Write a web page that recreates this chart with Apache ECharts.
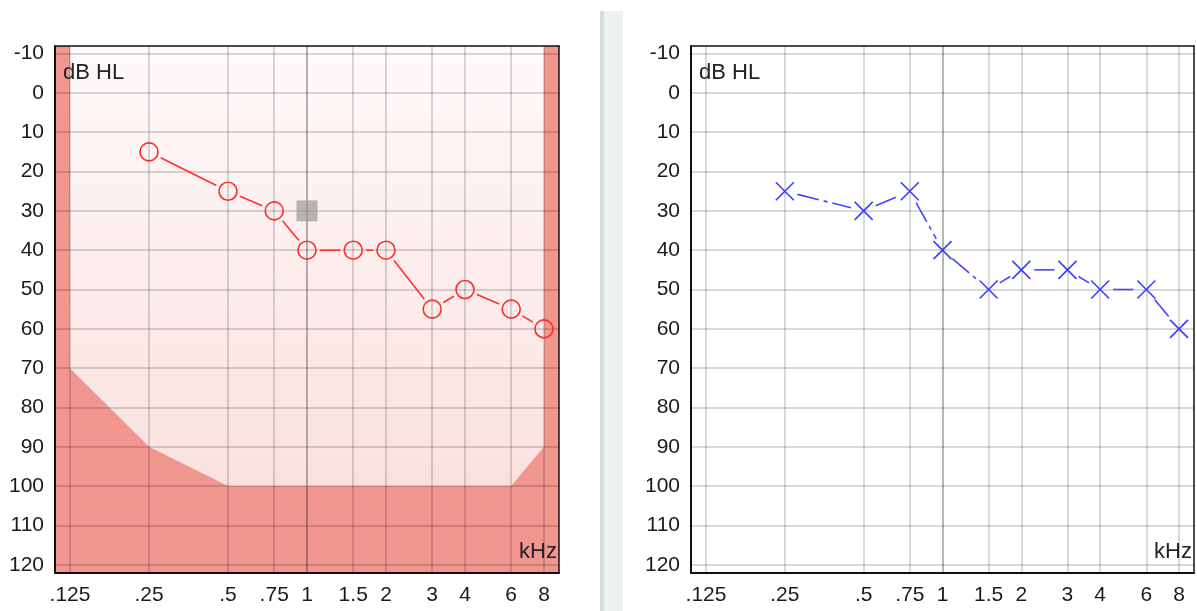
<!DOCTYPE html>
<html>
<head>
<meta charset="utf-8">
<title>Audiogram</title>
<script src="https://cdn.jsdelivr.net/npm/echarts@6/dist/echarts.min.js"></script>
<style>
  html, body { margin: 0; padding: 0; background: #fff; }
  #chart { width: 1197px; height: 611px; }
</style>
</head>
<body>
<div id="chart"></div>
<script>
// axis ticks
const freqTicks = [0.125, 0.25, 0.5, 0.75, 1, 1.5, 2, 3, 4, 6, 8];
const freqTickLabels = ['.125', '.25', '.5', '.75', '1', '1.5', '2', '3', '4', '6', '8'];
const dbTicks = [-10, 0, 10, 20, 30, 40, 50, 60, 70, 80, 90, 100, 110, 120];

// left ear (circles)
const leftFreqs = [0.25, 0.5, 0.75, 1, 1.5, 2, 3, 4, 6, 8];
const leftDb = [15, 25, 30, 40, 40, 40, 55, 50, 55, 60];
// masking marker on the left chart
const maskFreqs = [1];
const maskDb = [30];
// output limit of the audiometer (red area below it)
const limitFreqs = [0.125, 0.25, 0.5, 6, 8];
const limitDb = [70, 90, 100, 100, 90];

// right ear (crosses)
const rightFreqs = [0.25, 0.5, 0.75, 1, 1.5, 2, 3, 4, 6, 8];
const rightDb = [25, 30, 25, 40, 50, 45, 45, 50, 50, 60];

const lx = (f) => Math.log2(f);
const X_MIN = -3.19, X_MAX = 3.19;
const Y_MIN = -11.93, Y_MAX = 122.1;
const FONT = "'Liberation Sans', Arial, sans-serif";

const chart = echarts.init(document.getElementById('chart'));

function segments(freqs, db) {
  const out = [];
  for (let i = 1; i < freqs.length; i++) {
    out.push([lx(freqs[i - 1]), db[i - 1], lx(freqs[i]), db[i]]);
  }
  return out;
}

// draw each connecting line stopping short of the markers
function segmentSeries(freqs, db, axisIdx, color, gap, dash) {
  return {
    type: 'custom',
    xAxisIndex: axisIdx,
    yAxisIndex: axisIdx,
    z: 5,
    silent: true,
    encode: { x: [0, 2], y: [1, 3] },
    data: segments(freqs, db),
    renderItem(params, api) {
      const a = api.coord([api.value(0), api.value(1)]);
      const b = api.coord([api.value(2), api.value(3)]);
      const dx = b[0] - a[0], dy = b[1] - a[1];
      const len = Math.sqrt(dx * dx + dy * dy);
      if (len <= gap * 2) return null;
      const ux = dx / len, uy = dy / len;
      return {
        type: 'line',
        shape: {
          x1: a[0] + ux * gap, y1: a[1] + uy * gap,
          x2: b[0] - ux * gap, y2: b[1] - uy * gap
        },
        style: { stroke: color, lineWidth: 1.6, lineDash: dash || null }
      };
    }
  };
}

const splitColors = freqTicks.map((f) => (f === 1 ? 'rgba(0,0,0,0.38)' : 'rgba(0,0,0,0.2)'));

function xAxes(gridIndex) {
  return [
    {
      type: 'value', gridIndex, min: X_MIN, max: X_MAX, z: 3,
      axisLine: { show: true, onZero: false, lineStyle: { color: '#111', width: 2 } },
      axisTick: { show: false, customValues: freqTicks.map(lx) },
      axisLabel: {
        customValues: freqTicks.map(lx),
        margin: 12,
        fontFamily: FONT, fontSize: 21, color: '#1a1a1a',
        formatter: (v) => {
          let best = 0;
          freqTicks.forEach((f, i) => {
            if (Math.abs(lx(f) - v) < Math.abs(lx(freqTicks[best]) - v)) best = i;
          });
          return freqTickLabels[best];
        }
      },
      splitLine: { show: true, lineStyle: { color: splitColors, width: 1.5 } }
    },
    {
      type: 'value', gridIndex, min: X_MIN, max: X_MAX, position: 'top', z: 3,
      axisLine: { show: true, onZero: false, lineStyle: { color: '#111', width: 1.5 } },
      axisTick: { show: false }, axisLabel: { show: false }, splitLine: { show: false }
    }
  ];
}

function yAxes(gridIndex) {
  return [
    {
      type: 'value', gridIndex, min: Y_MIN, max: Y_MAX, inverse: true, z: 3,
      axisLine: { show: true, onZero: false, lineStyle: { color: '#111', width: 2 } },
      axisTick: { show: false, customValues: dbTicks },
      axisLabel: {
        customValues: dbTicks, margin: 11,
        fontFamily: FONT, fontSize: 21, color: '#1a1a1a'
      },
      splitLine: { show: true, lineStyle: { color: 'rgba(0,0,0,0.2)', width: 1.5 } }
    },
    {
      type: 'value', gridIndex, min: Y_MIN, max: Y_MAX, inverse: true, position: 'right', z: 3,
      axisLine: { show: true, onZero: false, lineStyle: { color: '#111', width: 1.5 } },
      axisTick: { show: false }, axisLabel: { show: false }, splitLine: { show: false }
    }
  ];
}

// limit curve, carried out to the frame edges
const limitData = [[X_MIN, Y_MIN], [lx(limitFreqs[0]), Y_MIN]]
  .concat(limitFreqs.map((f, i) => [lx(f), limitDb[i]]))
  .concat([[lx(limitFreqs[limitFreqs.length - 1]), Y_MIN], [X_MAX, Y_MIN]]);

const labelFont = '22px ' + FONT;

const option = {
  animation: false,
  backgroundColor: '#fff',
  grid: [
    {
      left: 55, top: 46, width: 504, height: 527, show: true, borderWidth: 0,
      backgroundColor: new echarts.graphic.LinearGradient(0, 0, 0, 1, [
        { offset: 0, color: '#fefafa' },
        { offset: 1, color: '#f9dcda' }
      ])
    },
    { left: 691, top: 46, width: 503, height: 527 }
  ],
  xAxis: xAxes(0).concat(xAxes(1)),
  yAxis: yAxes(0).concat(yAxes(1)),
  graphic: [
    { type: 'rect', shape: { x: 600, y: 11, width: 23, height: 600 }, style: { fill: '#ecf2f2' } },
    { type: 'rect', shape: { x: 600, y: 11, width: 4, height: 600 }, style: { fill: '#d6dcdc' } },
    { type: 'text', x: 63, y: 73, z: 10, style: { text: 'dB HL', font: labelFont, fill: '#222', verticalAlign: 'middle' } },
    { type: 'text', x: 557, y: 552, z: 10, style: { text: 'kHz', font: labelFont, fill: '#222', align: 'right', verticalAlign: 'middle' } },
    { type: 'text', x: 699, y: 73, z: 10, style: { text: 'dB HL', font: labelFont, fill: '#222', verticalAlign: 'middle' } },
    { type: 'text', x: 1192, y: 552, z: 10, style: { text: 'kHz', font: labelFont, fill: '#222', align: 'right', verticalAlign: 'middle' } }
  ],
  series: [
    {
      type: 'line', xAxisIndex: 0, yAxisIndex: 0, z: 1, silent: true,
      data: limitData, symbol: 'none',
      lineStyle: { width: 0 },
      areaStyle: { origin: 'end', color: '#f1968f', opacity: 1 }
    },
    {
      type: 'scatter', xAxisIndex: 0, yAxisIndex: 0, z: 4,
      data: maskFreqs.map((f, i) => [lx(f), maskDb[i]]),
      symbol: 'rect', symbolSize: 21,
      itemStyle: { color: 'rgba(150,150,150,0.85)' }
    },
    segmentSeries(leftFreqs, leftDb, 0, '#ff3030', 13),
    {
      type: 'scatter', xAxisIndex: 0, yAxisIndex: 0, z: 6,
      data: leftFreqs.map((f, i) => [lx(f), leftDb[i]]),
      symbol: 'circle', symbolSize: 18,
      itemStyle: { color: 'rgba(0,0,0,0)', borderColor: '#ff2a2a', borderWidth: 1.6, opacity: 1 }
    },
    segmentSeries(rightFreqs, rightDb, 2, '#4545ff', 13, [22, 5, 4, 5]),
    {
      type: 'scatter', xAxisIndex: 2, yAxisIndex: 2, z: 6,
      data: rightFreqs.map((f, i) => [lx(f), rightDb[i]]),
      symbol: 'path://M0,0L10,10M10,0L0,10', symbolSize: 18,
      itemStyle: { color: 'none', borderColor: '#3c3cff', borderWidth: 1.6, opacity: 1 }
    }
  ]
};

chart.setOption(option);
</script>
</body>
</html>
